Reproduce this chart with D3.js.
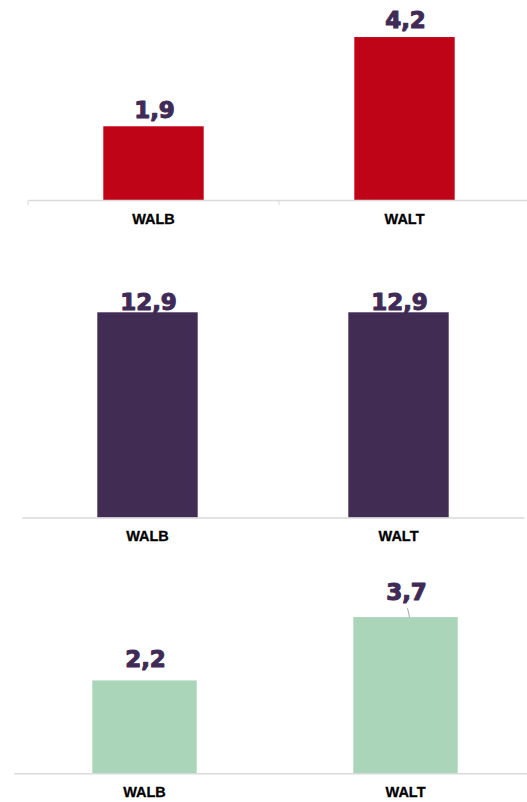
<!DOCTYPE html>
<html>
<head>
<meta charset="utf-8">
<script src="https://cdn.jsdelivr.net/npm/d3@7"></script>
<style>
  html, body { margin: 0; padding: 0; background: #fff; }
  svg { display: block; }
  .cat text { font-family: "Liberation Sans", Arial, sans-serif; font-weight: bold; font-size: 14.5px; fill: #000; stroke: #000; stroke-width: 0.3px; }
  .val { font-family: "DejaVu Sans", sans-serif; font-weight: bold; font-size: 23px; fill: #3f2b56; stroke: #3f2b56; stroke-width: 1.1px; stroke-linejoin: round; }
</style>
</head>
<body>
<svg width="527" height="802"></svg>
<script>
(() => {

    // categories and values for the three small charts
    var categories = ["WALB", "WALT"];
    var valuesTop = [1.9, 4.2];
    var valuesMiddle = [12.9, 12.9];
    var valuesBottom = [2.2, 3.7];
    var valueLabels = { top: ["1,9", "4,2"], middle: ["12,9", "12,9"], bottom: ["2,2", "3,7"] };

    var svg = d3.select("svg");

    // one entry per panel: layout and style
    var panels = [
        { key: "top", values: valuesTop, color: "#c00418", xRange: [28, 530], base: 200, top: 6, max: 5,
          labelGap: [8, 9], boundaryTicks: true },
        { key: "middle", values: valuesMiddle, color: "#412d53", xRange: [22, 524], base: 517.5, top: 294.8, max: 14,
          labelGap: [2, 2], boundaryTicks: false },
        { key: "bottom", values: valuesBottom, color: "#aad5b9", xRange: [14, 536], base: 773.3, top: 604.4, max: 4,
          labelGap: [13, 17], leader: [false, true], boundaryTicks: false }
    ];

    panels.forEach(function (p) {
        var g = svg.append("g");

        var x = d3.scaleBand()
            .domain(categories)
            .range(p.xRange)
            .paddingInner(0.6)
            .paddingOuter(0.3);

        var y = d3.scaleLinear()
            .domain([0, p.max])
            .range([p.base, p.top]);

        // bars
        g.selectAll("rect")
            .data(p.values)
            .enter().append("rect")
            .attr("x", function (d, i) { return x(categories[i]); })
            .attr("y", function (d) { return y(d); })
            .attr("width", x.bandwidth())
            .attr("height", function (d) { return y(0) - y(d); })
            .attr("fill", p.color);

        // axis
        var axis = g.append("g")
            .attr("class", "cat")
            .attr("transform", "translate(0," + p.base + ")")
            .call(d3.axisBottom(x).tickSize(0).tickSizeOuter(0).tickPadding(14));
        axis.select(".domain").attr("stroke", "#d9d9d9").attr("stroke-width", 1.5);
        axis.selectAll(".tick text").attr("dy", "0.71em").attr("y", 13.5);

        if (p.boundaryTicks) {
            var edges = categories.map(function (c) { return x(c) - x.step() * x.paddingOuter(); });
            edges.push(p.xRange[1]);
            axis.selectAll(".edge")
                .data(edges)
                .enter().append("line")
                .attr("x1", function (d) { return d; })
                .attr("x2", function (d) { return d; })
                .attr("y1", 0)
                .attr("y2", 5)
                .attr("stroke", "#d9d9d9")
                .attr("stroke-width", 1);
        }

        // value labels
        g.selectAll(".val")
            .data(p.values)
            .enter().append("text")
            .attr("class", "val")
            .attr("text-anchor", "middle")
            .attr("x", function (d, i) { return x(categories[i]) + x.bandwidth() / 2 + 1; })
            .attr("y", function (d, i) { return y(d) - p.labelGap[i]; })
            .text(function (d, i) { return valueLabels[p.key][i]; });

        // leader lines
        if (p.leader) {
            p.values.forEach(function (d, i) {
                if (!p.leader[i]) return;
                var cx = x(categories[i]) + x.bandwidth() / 2;
                g.append("line")
                    .attr("x1", cx + 2)
                    .attr("y1", y(d) - 9)
                    .attr("x2", cx + 4)
                    .attr("y2", y(d))
                    .attr("stroke", "#a6a6a6")
                    .attr("stroke-width", 1);
            });
        }
    });

})();
</script>
</body>
</html>
